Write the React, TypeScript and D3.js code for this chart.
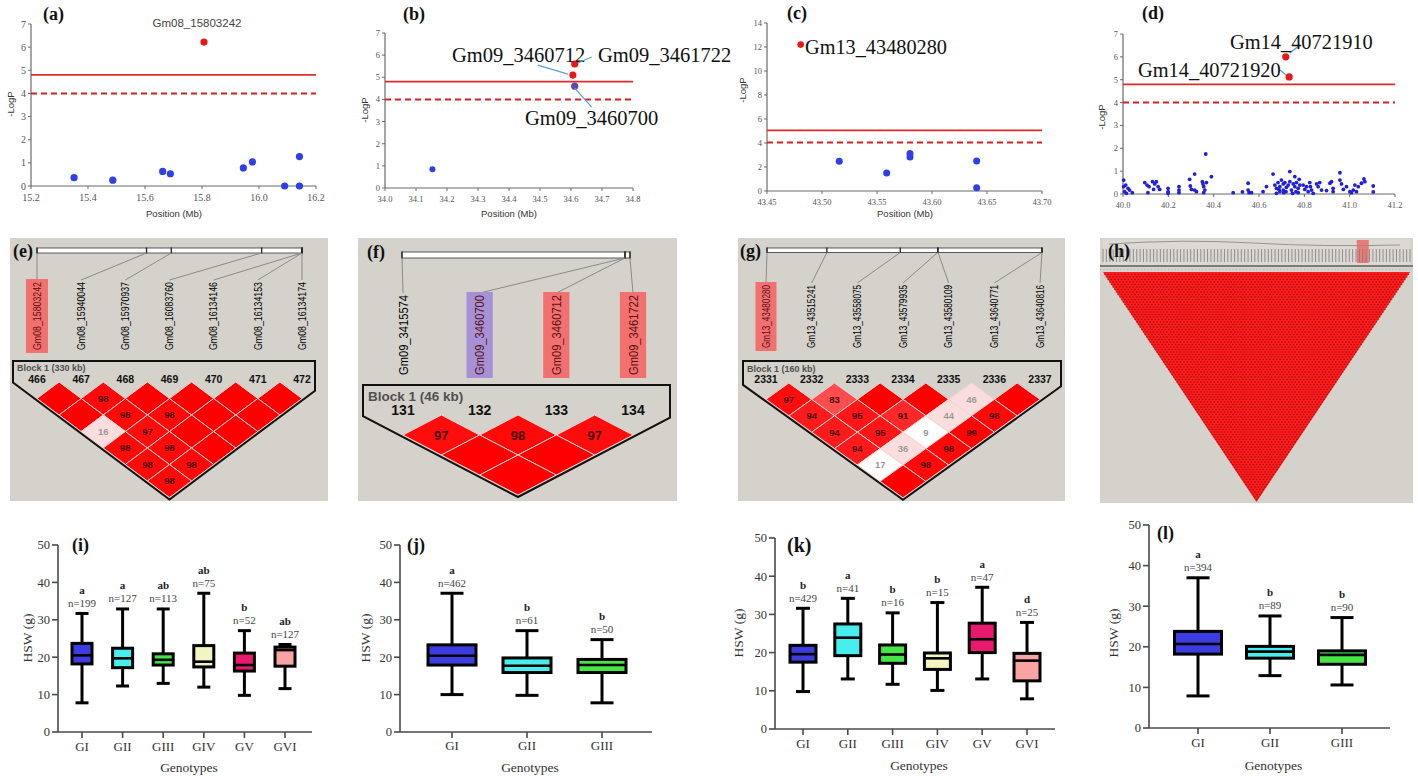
import React from "react";
import * as d3 from "d3";

const SERIF = "'Liberation Serif', 'DejaVu Serif', serif";
const SANS = "'Liberation Sans', Arial, sans-serif";

// ---------------- (a) ----------------
const aBluePos = [15.351, 15.487, 15.662, 15.689, 15.945, 15.977, 16.09, 16.142, 16.142];
const aBlueLogP = [0.36, 0.25, 0.63, 0.53, 0.78, 1.04, 0.0, 0.0, 1.27];
const aRedPos = [15.807];
const aRedLogP = [6.22];
const aXTicks = [15.2, 15.4, 15.6, 15.8, 16.0, 16.2];
const aYTicks = [0, 1, 2, 3, 4, 5, 6, 7];

// ---------------- (b) ----------------
const bBluePos = [34.153];
const bBlueLogP = [0.85];
const bRedPos = [34.606, 34.612];
const bRedLogP = [5.1, 5.6];
const bPurplePos = [34.612];
const bPurpleLogP = [4.6];
const bXTicks = [34.0, 34.1, 34.2, 34.3, 34.4, 34.5, 34.6, 34.7, 34.8];
const bYTicks = [0, 1, 2, 3, 4, 5, 6, 7];

// ---------------- (c) ----------------
const cBluePos = [43.5157, 43.5588, 43.58, 43.58, 43.6406, 43.6406];
const cBlueLogP = [2.48, 1.5, 3.12, 2.84, 2.5, 0.28];
const cRedPos = [43.4806];
const cRedLogP = [12.2];
const cXTicks = [43.45, 43.5, 43.55, 43.6, 43.65, 43.7];
const cYTicks = [0, 2, 4, 6, 8, 10, 12, 14];

// ---------------- (d) ----------------
const dBluePos = [
  40.003, 40.003, 40.007, 40.012, 40.022, 40.029, 40.041, 40.015, 40.096, 40.106,
  40.115, 40.11, 40.13, 40.14, 40.147, 40.155, 40.162, 40.135, 40.199, 40.199,
  40.199, 40.247, 40.247, 40.247, 40.294, 40.297, 40.302, 40.316, 40.316, 40.324,
  40.35, 40.353, 40.356, 40.361, 40.356, 40.368, 40.365, 40.39, 40.486, 40.527,
  40.552, 40.552, 40.556, 40.567, 40.618, 40.633, 40.662, 40.67, 40.677, 40.684,
  40.692, 40.692, 40.699, 40.707, 40.707, 40.714, 40.721, 40.736, 40.729, 40.736,
  40.743, 40.751, 40.758, 40.758, 40.763, 40.765, 40.773, 40.777, 40.78, 40.773,
  40.795, 40.802, 40.81, 40.817, 40.824, 40.827, 40.832, 40.839, 40.854, 40.861,
  40.868, 40.876, 40.898, 40.913, 40.92, 40.927, 40.927, 40.957, 40.957, 40.964,
  40.972, 40.986, 41.001, 41.008, 41.016, 41.023, 41.03, 41.038, 41.052, 41.067,
  41.063, 41.104, 41.104, 40.677, 40.709, 40.748, 40.688, 40.719,
];
const dBlueLogP = [
  0.61, 0.32, 0.1, 0.39, 0.25, 0.17, 0.06, 0.03, 0.5, 0.39,
  0.32, 0.06, 0.54, 0.44, 0.54, 0.32, 0.2, 0.2, 0.25, 0.1,
  0.03, 0.32, 0.17, 0.06, 0.64, 0.35, 0.2, 0.87, 0.17, 0.1,
  0.54, 0.44, 0.32, 0.17, 0.06, 0.5, 1.75, 0.76, 0.06, 0.09,
  0.47, 0.17, 0.06, 0.06, 0.1, 0.32, 0.87, 0.39, 0.25, 0.5,
  0.1, 0.32, 0.61, 0.44, 0.17, 0.5, 0.29, 0.98, 0.39, 0.54,
  0.17, 0.44, 0.76, 0.32, 0.1, 0.5, 0.25, 0.64, 0.39, 0.06,
  0.39, 0.2, 0.32, 0.1, 0.5, 0.32, 0.17, 0.03, 0.44, 0.32,
  0.5, 0.17, 0.15, 0.47, 0.54, 0.25, 0.1, 0.93, 0.61, 0.44,
  0.2, 0.32, 0.1, 0.06, 0.17, 0.39, 0.1, 0.32, 0.47, 0.54,
  0.66, 0.35, 0.09, 0.03, 0.06, 0.03, 0.2, 0.1,
];
const dRedPos = [40.718, 40.733];
const dRedLogP = [6.0, 5.12];
const dXTicks = [40.0, 40.2, 40.4, 40.6, 40.8, 41.0, 41.2];
const dYTicks = [0, 1, 2, 3, 4, 5, 6, 7];

// ---------------- LD blocks ----------------
const eMarkers = ["Gm08_15803242", "Gm08_15940044", "Gm08_15970937", "Gm08_16083760", "Gm08_16134146", "Gm08_16134153", "Gm08_16134174"];
const ePositions = [15803242, 15940044, 15970937, 16083760, 16134146, 16134153, 16134174];
const eBlockNums = [466, 467, 468, 469, 470, 471, 472];
const eLD = [[100, 98, 100, 100, 100, 100], [100, 98, 98, 100, 100], [16, 97, 100, 100], [98, 98, 100], [98, 98], [98]];
const eLowLod: [number, number][] = [];

const fMarkers = ["Gm09_3415574", "Gm09_3460700", "Gm09_3460712", "Gm09_3461722"];
const fPositions = [3415574, 3460700, 3460712, 3461722];
const fBlockNums = [131, 132, 133, 134];
const fLD = [[97, 98, 97], [100, 100], [100]];
const fLowLod: [number, number][] = [];

const gMarkers = ["Gm13_43480280", "Gm13_43515241", "Gm13_43558075", "Gm13_43579935", "Gm13_43580109", "Gm13_43640771", "Gm13_43640816"];
const gPositions = [43480280, 43515241, 43558075, 43579935, 43580109, 43640771, 43640816];
const gBlockNums = [2331, 2332, 2333, 2334, 2335, 2336, 2337];
const gLD = [[97, 83, 100, 100, 46, 100], [94, 95, 91, 44, 98], [94, 95, 9, 99], [94, 36, 98], [17, 98], [100]];
const gLowLod: [number, number][] = [[2, 5], [0, 5]];

const hMarkerCount = 92;
const hHighlightMarker = 77;

// ---------------- Box plots ----------------
const boxColors = ["#3c3ce0", "#46eeee", "#46e646", "#f4f4c0", "#e8196f", "#f8a4a4"];

const iCats = ["GI", "GII", "GIII", "GIV", "GV", "GVI"];
const iMin = [7.8, 12.3, 13.0, 12.0, 9.8, 11.6];
const iQ1 = [18.2, 17.2, 17.9, 17.4, 16.3, 17.6];
const iMed = [20.5, 19.7, 19.3, 18.8, 17.9, 21.9];
const iQ3 = [23.7, 22.4, 20.9, 23.1, 21.1, 22.7];
const iMax = [31.7, 32.9, 32.9, 37.1, 27.1, 23.4];
const iLetters = ["a", "a", "ab", "ab", "b", "ab"];
const iN = ["n=199", "n=127", "n=113", "n=75", "n=52", "n=127"];

const jCats = ["GI", "GII", "GIII"];
const jMin = [10.0, 9.8, 7.8];
const jQ1 = [17.9, 15.9, 15.9];
const jMed = [20.4, 17.7, 17.9];
const jQ3 = [23.3, 19.8, 19.4];
const jMax = [37.1, 27.1, 24.7];
const jLetters = ["a", "b", "b"];
const jN = ["n=462", "n=61", "n=50"];

const kCats = ["GI", "GII", "GIII", "GIV", "GV", "GVI"];
const kMin = [9.8, 13.1, 11.7, 10.1, 13.1, 7.9];
const kQ1 = [17.5, 19.2, 17.2, 15.6, 20.0, 12.6];
const kMed = [19.6, 23.9, 19.5, 18.5, 23.5, 17.9];
const kQ3 = [21.9, 27.5, 22.0, 19.9, 27.7, 19.8];
const kMax = [31.6, 34.2, 30.4, 33.1, 37.1, 27.9];
const kLetters = ["b", "a", "b", "b", "a", "d"];
const kN = ["n=429", "n=41", "n=16", "n=15", "n=47", "n=25"];

const lCats = ["GI", "GII", "GIII"];
const lMin = [7.9, 12.9, 10.6];
const lQ1 = [18.2, 17.2, 15.7];
const lMed = [20.7, 18.8, 18.0];
const lQ3 = [23.8, 20.1, 19.0];
const lMax = [37.0, 27.6, 27.2];
const lLetters = ["a", "b", "b"];
const lN = ["n=394", "n=89", "n=90"];

// ================= Components =================
type Series = { pos: number[]; val: number[]; color: string; r: number };
type Note = {
  text: string; x: number; y: number; size: number; font: string; color: string;
  anchor?: string; leader?: { s: number; i: number; d: [number, number, number, number] };
};
type MCfg = {
  xDomain: [number, number]; xRange: [number, number];
  yDomain: [number, number]; yRange: [number, number];
  xTicks: number[]; yTicks: number[]; xFmt: string; tickFont: number;
  series: Series[]; solid: number; dashed: number;
  yLabel: [number, number]; xLabel?: [number, number];
  panel: [string, number, number]; notes: Note[];
};

function Manhattan({ c }: { c: MCfg }) {
  const x = d3.scaleLinear().domain(c.xDomain).range(c.xRange);
  const y = d3.scaleLinear().domain(c.yDomain).range(c.yRange);
  const fmt = d3.format(c.xFmt);
  const [x0, x1] = c.xRange;
  const [yb, yt] = c.yRange;
  const ax = "#6a6a6a";
  return (
    <g>
      <line x1={x0} y1={yb} x2={x1} y2={yb} stroke={ax} strokeWidth={1.2} />
      <line x1={x0} y1={yb} x2={x0} y2={yt} stroke={ax} strokeWidth={1.2} />
      {c.xTicks.map((t) => (
        <g key={"x" + t}>
          <line x1={x(t)} x2={x(t)} y1={yb} y2={yb + 3} stroke={ax} />
          <text x={x(t)} y={yb + 11} dy="0.35em" textAnchor="middle" fontFamily={SERIF} fontSize={c.tickFont} fill="#555">{fmt(t)}</text>
        </g>
      ))}
      {c.yTicks.map((t) => (
        <g key={"y" + t}>
          <line x1={x0 - 3} x2={x0} y1={y(t)} y2={y(t)} stroke={ax} />
          <text x={x0 - 5} y={y(t)} dy="0.35em" textAnchor="end" fontFamily={SERIF} fontSize={c.tickFont} fill="#555">{t}</text>
        </g>
      ))}
      <line x1={x0} x2={x1} y1={y(c.solid)} y2={y(c.solid)} stroke="#e02a2a" strokeWidth={1.8} />
      <line x1={x0} x2={x1} y1={y(c.dashed)} y2={y(c.dashed)} stroke="#d42020" strokeWidth={2} strokeDasharray="6,4" />
      {c.series.map((s, si) =>
        s.pos.map((p, i) => <circle key={si + "-" + i} cx={x(p)} cy={y(s.val[i])} r={s.r} fill={s.color} />)
      )}
      {c.notes.map((n, k) => {
        let lead = null;
        if (n.leader) {
          const s = c.series[n.leader.s];
          const px = x(s.pos[n.leader.i]);
          const py = y(s.val[n.leader.i]);
          const d = n.leader.d;
          lead = <line x1={px + d[0]} y1={py + d[1]} x2={px + d[2]} y2={py + d[3]} stroke="#5f9fd6" strokeWidth={1.3} />;
        }
        return (
          <g key={"n" + k}>
            {lead}
            <text x={n.x} y={n.y} textAnchor={n.anchor || "start"} fontFamily={n.font} fontSize={n.size} fill={n.color}>{n.text}</text>
          </g>
        );
      })}
      <text transform={`translate(${c.yLabel[0]},${c.yLabel[1]}) rotate(-90)`} textAnchor="middle" dy="0.35em" fontFamily={SANS} fontSize={9.5} fill="#333">-LogP</text>
      {c.xLabel && (
        <text x={c.xLabel[0]} y={c.xLabel[1]} textAnchor="middle" dy="0.35em" fontFamily={SANS} fontSize={9.5} fill="#333">Position (Mb)</text>
      )}
      <text x={c.panel[1]} y={c.panel[2]} fontFamily={SERIF} fontWeight="bold" fontSize={18} fill="#111">{c.panel[0]}</text>
    </g>
  );
}

type LDCfg = {
  bg: [number, number, number, number];
  panel: [string, number, number];
  markers: string[]; positions: number[]; blockNums: number[]; ld: number[][]; lowLod: [number, number][];
  x0: number; s: number; rowTop: number; h: number;
  barX: [number, number]; barY: number; barH: number;
  labelTop: number; labelLen: number; labelFont: number; highlight: Record<number, string>;
  blockText: string; blockX: number; blockY: number; blockFont: number;
  numY: number; numFont: number; cellFont: number;
  outline: { L: number; R: number; T: number };
};

function ldColor(v: number, low: boolean) {
  if (low) return "#ffffff";
  const dp = v / 100;
  if (dp < 0.5) return "rgb(250,222,222)";
  const b = Math.round(223 * 2 * (1 - dp));
  return `rgb(255,${b},${b})`;
}

function LDBlock({ c }: { c: LDCfg }) {
  const n = c.markers.length;
  const mx = (i: number) => c.x0 + i * c.s;
  const bar = d3.scaleLinear().domain([c.positions[0], c.positions[n - 1]]).range(c.barX);
  const cells: JSX.Element[] = [];
  const texts: JSX.Element[] = [];
  c.ld.forEach((row, ri) => {
    const r = ri + 1;
    row.forEach((v, i) => {
      const j = i + r;
      const cx = (mx(i) + mx(j)) / 2;
      const cy = c.rowTop + r * c.h;
      const low = c.lowLod.some((p) => p[0] === i && p[1] === j);
      const hw = c.s / 2;
      cells.push(
        <path key={`c${i}-${j}`} d={`M${cx},${cy - c.h}L${cx + hw},${cy}L${cx},${cy + c.h}L${cx - hw},${cy}Z`}
          fill={ldColor(v, low)} stroke="#f6d2d2" strokeWidth={1} />
      );
      if (v < 100) {
        const light = low || v < 50;
        texts.push(
          <text key={`t${i}-${j}`} x={cx} y={cy} dy="0.36em" textAnchor="middle" fontFamily={SANS} fontWeight="bold"
            fontSize={c.cellFont} fill={light ? "#9a9a9a" : "#4a0606"}>{v}</text>
        );
      }
    });
  });
  const apexX = (mx(0) + mx(n - 1)) / 2;
  const apexY = c.rowTop + n * c.h + 2;
  const slope = c.h / (c.s / 2);
  const yL = apexY - (apexX - c.outline.L) * slope;
  const yR = apexY - (c.outline.R - apexX) * slope;
  const hlBox = (col: string) => (col === "purple" ? "#a690d6" : "#f27070");
  return (
    <g>
      <rect x={c.bg[0]} y={c.bg[1]} width={c.bg[2]} height={c.bg[3]} fill="#d5d2cb" />
      <rect x={c.barX[0]} y={c.barY} width={c.barX[1] - c.barX[0]} height={c.barH} fill="#ffffff" stroke="#333" strokeWidth={0.8} />
      {c.positions.map((p, i) => (
        <g key={"b" + i}>
          <line x1={bar(p)} x2={bar(p)} y1={c.barY - 0.5} y2={c.barY + c.barH + 0.5} stroke="#222" strokeWidth={1.3} />
          <line x1={bar(p)} y1={c.barY + c.barH} x2={mx(i)} y2={c.labelTop - 2} stroke="#8a8a8a" strokeWidth={1} />
        </g>
      ))}
      {c.markers.map((m, i) => (
        <g key={"m" + i}>
          {c.highlight[i] && (
            <rect x={mx(i) - c.labelFont * 1.05} y={c.labelTop - 3} width={c.labelFont * 2.1} height={c.labelLen + 6} fill={hlBox(c.highlight[i])} />
          )}
          <text transform={`translate(${mx(i)},${c.labelTop}) rotate(-90)`} textAnchor="end" dy="0.36em" fontFamily={SANS}
            fontSize={c.labelFont} textLength={c.labelLen} lengthAdjust="spacingAndGlyphs"
            fill={c.highlight[i] ? "#5a1010" : "#000"}>{m}</text>
        </g>
      ))}
      {cells}
      {texts}
      <path d={`M${c.outline.L},${yL}L${c.outline.L},${c.outline.T}L${c.outline.R},${c.outline.T}L${c.outline.R},${yR}L${apexX},${apexY}Z`}
        fill="none" stroke="#111" strokeWidth={2} />
      <text x={c.blockX} y={c.blockY} dy="0.35em" fontFamily={SANS} fontSize={c.blockFont} fill="#505050" fontWeight="bold">{c.blockText}</text>
      {c.blockNums.map((b, i) => (
        <text key={"bn" + i} x={mx(i)} y={c.numY} dy="0.35em" textAnchor="middle" fontFamily={SANS} fontWeight="bold" fontSize={c.numFont} fill="#111">{b}</text>
      ))}
      <text x={c.panel[1]} y={c.panel[2]} fontFamily={SERIF} fontWeight="bold" fontSize={18} fill="#111">{c.panel[0]}</text>
    </g>
  );
}

function LDBig() {
  const x0 = 1103, x1 = 1410, top = 272, bottom = 502;
  const n = hMarkerCount;
  const s = (x1 - x0) / (n - 1);
  const h = (bottom - top) / n;
  const mx = (i: number) => x0 + i * s;
  const dots: JSX.Element[] = [];
  for (let r = 1; r < n; r++) {
    for (let i = 0; i + r < n; i++) {
      const cx = (mx(i) + mx(i + r)) / 2;
      const cy = top + r * h;
      dots.push(<rect key={r + "_" + i} x={cx - 0.8} y={cy - 0.6} width={1.6} height={1.2} fill="#5a0000" opacity={0.55} />);
    }
  }
  const ticks = d3.range(n);
  return (
    <g>
      <rect x={1100} y={238} width={313} height={265} fill="#d5d2cb" />
      <rect x={1103} y={239} width={307} height={26} fill="#dcd9d3" />
      <rect x={mx(hHighlightMarker) - 6} y={240} width={12} height={23} fill="#ec6a6a" opacity={0.85} />
      <path d={`M${x0 + 6},244 Q${x0 + 80},239 ${x0 + 150},243 T${x1 - 10},245`} fill="none" stroke="#8d8d8d" strokeWidth={0.9} />
      {ticks.map((i) => (
        <line key={"tk" + i} x1={mx(i)} x2={mx(i)} y1={249} y2={262} stroke="#7b7b7b" strokeWidth={0.8} />
      ))}
      <line x1={1100} x2={1413} y1={266} y2={266} stroke="#7c7c7c" strokeWidth={2} />
      <line x1={1100} x2={1413} y1={269.5} y2={269.5} stroke="#b0b0b0" strokeWidth={1} strokeDasharray="1,2.4" />
      <path d={`M${x0},${top}L${x1},${top}L${(x0 + x1) / 2},${bottom}Z`} fill="#ff1c1c" />
      {dots}
      <text x={1108} y={257} fontFamily={SERIF} fontWeight="bold" fontSize={18} fill="#111">(h)</text>
    </g>
  );
}

type BoxCfg = {
  cats: string[]; mins: number[]; q1: number[]; med: number[]; q3: number[]; maxs: number[];
  letters: string[]; ns: string[];
  yRange: [number, number]; axisX: number; axisEnd: number; catRange: [number, number];
  boxW: number; capW: number; tickLabelY: number; titleY: number; yLabel: [number, number];
  panel: [string, number, number, number];
};

function BoxPanel({ c }: { c: BoxCfg }) {
  const y = d3.scaleLinear().domain([0, 50]).range(c.yRange);
  const x = d3.scalePoint<string>().domain(c.cats).range(c.catRange);
  const yTicks = [0, 10, 20, 30, 40, 50];
  const ax = "#4a4a4a";
  const y0 = y(0);
  return (
    <g>
      <line x1={c.axisX} x2={c.axisX} y1={y0} y2={y(50)} stroke={ax} strokeWidth={1.6} />
      <line x1={c.axisX} x2={c.axisEnd} y1={y0} y2={y0} stroke={ax} strokeWidth={1.6} />
      {yTicks.map((t) => (
        <g key={t}>
          <line x1={c.axisX - 6} x2={c.axisX} y1={y(t)} y2={y(t)} stroke={ax} strokeWidth={1.6} />
          <text x={c.axisX - 8} y={y(t)} dy="0.35em" textAnchor="end" fontFamily={SERIF} fontSize={12.5} fill="#333">{t}</text>
        </g>
      ))}
      {c.cats.map((k, i) => {
        const cx = x(k) as number;
        const hw = c.boxW / 2;
        const cw = c.capW / 2;
        return (
          <g key={k}>
            <line x1={cx} x2={cx} y1={y0} y2={y0 + 6} stroke={ax} strokeWidth={1.6} />
            <text x={cx} y={c.tickLabelY} dy="0.35em" textAnchor="middle" fontFamily={SERIF} fontSize={13} fill="#333">{k}</text>
            <line x1={cx} x2={cx} y1={y(c.mins[i])} y2={y(c.maxs[i])} stroke="#000" strokeWidth={3} />
            <line x1={cx - cw} x2={cx + cw} y1={y(c.mins[i])} y2={y(c.mins[i])} stroke="#000" strokeWidth={3} />
            <line x1={cx - cw} x2={cx + cw} y1={y(c.maxs[i])} y2={y(c.maxs[i])} stroke="#000" strokeWidth={3} />
            <rect x={cx - hw} y={y(c.q3[i])} width={c.boxW} height={y(c.q1[i]) - y(c.q3[i])} fill={boxColors[i]} stroke="#000" strokeWidth={3} />
            <line x1={cx - hw} x2={cx + hw} y1={y(c.med[i])} y2={y(c.med[i])} stroke="#000" strokeWidth={2.6} />
            <text x={cx} y={y(c.maxs[i]) - 10} dy="0.3em" textAnchor="middle" fontFamily={SERIF} fontSize={11} fill="#444">{c.ns[i]}</text>
            <text x={cx} y={y(c.maxs[i]) - 23} dy="0.3em" textAnchor="middle" fontFamily={SERIF} fontWeight="bold" fontSize={11} fill="#222">{c.letters[i]}</text>
          </g>
        );
      })}
      <text x={(c.axisX + c.axisEnd) / 2 + 4} y={c.titleY} dy="0.35em" textAnchor="middle" fontFamily={SERIF} fontSize={13.5} fill="#333">Genotypes</text>
      <text transform={`translate(${c.yLabel[0]},${c.yLabel[1]}) rotate(-90)`} textAnchor="middle" dy="0.35em" fontFamily={SERIF} fontSize={13.5} fill="#333">HSW (g)</text>
      <text x={c.panel[1]} y={c.panel[2]} dy="0.35em" fontFamily={SERIF} fontWeight="bold" fontSize={c.panel[3]} fill="#111">{c.panel[0]}</text>
    </g>
  );
}

// ================= Configs =================
const BLUE = "#2f3fe6";
const RED = "#ee1515";
const PURPLE = "#6548a8";

const aCfg: MCfg = {
  xDomain: [15.2, 16.2], xRange: [31, 316], yDomain: [0, 7], yRange: [186, 24],
  xTicks: aXTicks, yTicks: aYTicks, xFmt: ".1f", tickFont: 10,
  series: [
    { pos: aBluePos, val: aBlueLogP, color: BLUE, r: 3.6 },
    { pos: aRedPos, val: aRedLogP, color: RED, r: 3.6 },
  ],
  solid: 4.8, dashed: 4.0, yLabel: [11, 104], xLabel: [174, 214], panel: ["(a)", 43, 20],
  notes: [{ text: "Gm08_15803242", x: 197, y: 27, size: 11.5, font: SANS, color: "#444", anchor: "middle" }],
};

const bCfg: MCfg = {
  xDomain: [34.0, 34.8], xRange: [385, 633], yDomain: [0, 7], yRange: [188, 33],
  xTicks: bXTicks, yTicks: bYTicks, xFmt: ".1f", tickFont: 8.5,
  series: [
    { pos: bBluePos, val: bBlueLogP, color: BLUE, r: 3 },
    { pos: bRedPos, val: bRedLogP, color: RED, r: 3.6 },
    { pos: bPurplePos, val: bPurpleLogP, color: PURPLE, r: 3.6 },
  ],
  solid: 4.8, dashed: 4.0, yLabel: [365, 110], xLabel: [509, 214], panel: ["(b)", 403, 20],
  notes: [
    { text: "Gm09_3460712", x: 452, y: 62, size: 20.5, font: SERIF, color: "#111", leader: { s: 1, i: 0, d: [-35, -10, -5, -1] } },
    { text: "Gm09_3461722", x: 598, y: 62, size: 20.5, font: SERIF, color: "#111", leader: { s: 1, i: 1, d: [17, -7, 3, -1] } },
    { text: "Gm09_3460700", x: 525, y: 125, size: 20.5, font: SERIF, color: "#111", leader: { s: 2, i: 0, d: [0, 2, 17, 21] } },
  ],
};

const cCfg: MCfg = {
  xDomain: [43.45, 43.7], xRange: [767, 1042], yDomain: [0, 14], yRange: [191, 23],
  xTicks: cXTicks, yTicks: cYTicks, xFmt: ".2f", tickFont: 8.5,
  series: [
    { pos: cBluePos, val: cBlueLogP, color: BLUE, r: 3.5 },
    { pos: cRedPos, val: cRedLogP, color: RED, r: 3.3 },
  ],
  solid: 5.05, dashed: 4.04, yLabel: [743, 90], xLabel: [905, 214], panel: ["(c)", 787, 19],
  notes: [{ text: "Gm13_43480280", x: 805, y: 54, size: 20.3, font: SERIF, color: "#111" }],
};

const dCfg: MCfg = {
  xDomain: [40.0, 41.2], xRange: [1123, 1395], yDomain: [0, 7], yRange: [194, 34],
  xTicks: dXTicks, yTicks: dYTicks, xFmt: ".1f", tickFont: 8.5,
  series: [
    { pos: dBluePos, val: dBlueLogP, color: "#2020d8", r: 1.9 },
    { pos: dRedPos, val: dRedLogP, color: RED, r: 3.6 },
  ],
  solid: 4.8, dashed: 4.0, yLabel: [1102, 117], panel: ["(d)", 1142, 19],
  notes: [
    { text: "Gm14_40721910", x: 1230, y: 49, size: 20.4, font: SERIF, color: "#111", leader: { s: 1, i: 0, d: [4, -4, 12, -10] } },
    { text: "Gm14_40721920", x: 1138, y: 77, size: 20.4, font: SERIF, color: "#111", leader: { s: 1, i: 1, d: [-9, -7, -3, -2] } },
  ],
};

const eCfg: LDCfg = {
  bg: [10, 238, 318, 263], panel: ["(e)", 13, 257],
  markers: eMarkers, positions: ePositions, blockNums: eBlockNums, ld: eLD, lowLod: eLowLod,
  x0: 37, s: (302 - 37) / 6, rowTop: 382, h: 16.5,
  barX: [37, 302], barY: 248, barH: 5,
  labelTop: 282, labelLen: 68, labelFont: 10.5, highlight: { 0: "red" },
  blockText: "Block 1 (330 kb)", blockX: 17, blockY: 368, blockFont: 9,
  numY: 379, numFont: 10.5, cellFont: 9.5,
  outline: { L: 13, R: 315, T: 361 },
};

const fCfg: LDCfg = {
  bg: [358, 238, 319, 263], panel: ["(f)", 367, 258],
  markers: fMarkers, positions: fPositions, blockNums: fBlockNums, ld: fLD, lowLod: fLowLod,
  x0: 403, s: (633 - 403) / 3, rowTop: 415, h: 20,
  barX: [402, 630], barY: 252, barH: 6,
  labelTop: 295, labelLen: 80, labelFont: 12.5, highlight: { 1: "purple", 2: "red", 3: "red" },
  blockText: "Block 1  (46 kb)", blockX: 368, blockY: 396, blockFont: 13.5,
  numY: 410, numFont: 14, cellFont: 13,
  outline: { L: 363, R: 670, T: 385 },
};

const gCfg: LDCfg = {
  bg: [738, 238, 327, 263], panel: ["(g)", 740, 257],
  markers: gMarkers, positions: gPositions, blockNums: gBlockNums, ld: gLD, lowLod: gLowLod,
  x0: 766, s: (1040 - 766) / 6, rowTop: 383, h: 16.4,
  barX: [767, 1042], barY: 248, barH: 4.5,
  labelTop: 285, labelLen: 63, labelFont: 10, highlight: { 0: "red" },
  blockText: "Block 1 (160 kb)", blockX: 747, blockY: 369, blockFont: 9,
  numY: 379, numFont: 10.5, cellFont: 9.5,
  outline: { L: 743, R: 1061, T: 361 },
};

const iCfg: BoxCfg = {
  cats: iCats, mins: iMin, q1: iQ1, med: iMed, q3: iQ3, maxs: iMax, letters: iLetters, ns: iN,
  yRange: [732, 545], axisX: 58, axisEnd: 312, catRange: [82, 285], boxW: 20, capW: 13,
  tickLabelY: 746, titleY: 767, yLabel: [27, 638], panel: ["(i)", 72, 545, 18],
};
const jCfg: BoxCfg = {
  cats: jCats, mins: jMin, q1: jQ1, med: jMed, q3: jQ3, maxs: jMax, letters: jLetters, ns: jN,
  yRange: [732, 545], axisX: 400, axisEnd: 652, catRange: [452, 602], boxW: 48, capW: 23,
  tickLabelY: 745, titleY: 767, yLabel: [365, 638], panel: ["(j)", 407, 545, 18],
};
const kCfg: BoxCfg = {
  cats: kCats, mins: kMin, q1: kQ1, med: kMed, q3: kQ3, maxs: kMax, letters: kLetters, ns: kN,
  yRange: [729, 538], axisX: 775, axisEnd: 1055, catRange: [803, 1027], boxW: 26, capW: 14,
  tickLabelY: 743, titleY: 765, yLabel: [738, 633], panel: ["(k)", 787, 545, 20],
};
const lCfg: BoxCfg = {
  cats: lCats, mins: lMin, q1: lQ1, med: lMed, q3: lQ3, maxs: lMax, letters: lLetters, ns: lN,
  yRange: [728, 525], axisX: 1149, axisEnd: 1390, catRange: [1198, 1342], boxW: 47, capW: 23,
  tickLabelY: 742, titleY: 765, yLabel: [1113, 633], panel: ["(l)", 1157, 533, 18],
};

export default function App() {
  return (
    <svg width={1418} height={776} viewBox="0 0 1418 776" style={{ position: "absolute", left: 0, top: 0, background: "#fff" }}>
      <rect x={0} y={0} width={1418} height={776} fill="#fff" />
      <Manhattan c={aCfg} />
      <Manhattan c={bCfg} />
      <Manhattan c={cCfg} />
      <Manhattan c={dCfg} />
      <LDBlock c={eCfg} />
      <LDBlock c={fCfg} />
      <LDBlock c={gCfg} />
      <LDBig />
      <BoxPanel c={iCfg} />
      <BoxPanel c={jCfg} />
      <BoxPanel c={kCfg} />
      <BoxPanel c={lCfg} />
    </svg>
  );
}
